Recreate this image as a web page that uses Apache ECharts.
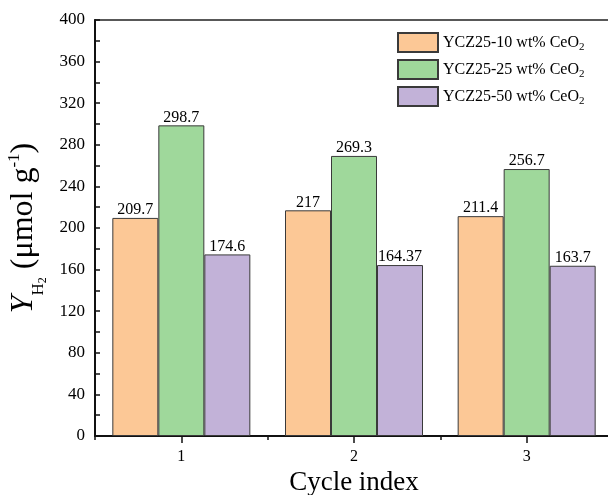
<!DOCTYPE html>
<html>
<head>
<meta charset="utf-8">
<script src="https://cdn.jsdelivr.net/npm/echarts@6/dist/echarts.min.js"></script>
<style>
  html, body { margin: 0; padding: 0; background: #fff; }
  #chart { width: 608px; height: 495px; }
</style>
</head>
<body>
<div id="chart"></div>
<script>
// Hydrogen yield per cycle for three CeO2 loadings
const cycles = ['1', '2', '3'];
const seriesNames = ['YCZ25-10 wt% CeO2', 'YCZ25-25 wt% CeO2', 'YCZ25-50 wt% CeO2'];
const yield10 = [209.7, 217, 211.4];
const yield25 = [298.7, 269.3, 256.7];
const yield50 = [174.6, 164.37, 163.7];
const barColors = ['#FCC896', '#9FD89B', '#C2B2D8'];

const FONT = 'Liberation Serif, Times New Roman, serif';

function makeSeries(name, values, color) {
  return {
    name: name,
    type: 'bar',
    xAxisIndex: 0,
    yAxisIndex: 0,
    data: values,
    barWidth: 46,
    barGap: '0%',
    itemStyle: { color: color, borderColor: '#3a3a3a', borderWidth: 1 },
    label: {
      show: true,
      position: 'top',
      distance: 0,
      color: '#000',
      fontFamily: FONT,
      fontSize: 16,
      formatter: (p) => String(p.value)
    }
  };
}

const chart = echarts.init(document.getElementById('chart'), null, { renderer: 'canvas' });

chart.setOption({
  animation: false,
  backgroundColor: '#fff',
  grid: {
    left: 95, right: -5, top: 20, bottom: 59,
    containLabel: false,
    outerBoundsMode: 'none',
    show: true, borderColor: '#222', borderWidth: 1.5, backgroundColor: 'transparent'
  },
  legend: {
    orient: 'vertical',
    left: 392,
    top: 27,
    itemWidth: 40,
    itemHeight: 19,
    itemGap: 6,
    itemTextGap: 5,
    icon: 'rect',
    data: seriesNames,
    formatter: (name) => '{a|' + name.slice(0, -1) + '}{s|' + name.slice(-1) + '}',
    textStyle: {
      fontFamily: FONT,
      color: '#000',
      rich: {
        a: { fontFamily: FONT, fontSize: 16, color: '#000', lineHeight: 20 },
        s: { fontFamily: FONT, fontSize: 11, color: '#000', lineHeight: 11, verticalAlign: 'bottom' }
      }
    }
  },
  xAxis: [
    {
      type: 'category',
      data: cycles,
      boundaryGap: true,
      name: 'Cycle index',
      nameLocation: 'middle',
      nameGap: 30,
      nameTextStyle: { fontFamily: FONT, fontSize: 27, color: '#000' },
      axisLine: { show: true, lineStyle: { color: '#111', width: 2 } },
      axisTick: { show: true, alignWithLabel: true, inside: false, length: 7, lineStyle: { color: '#111', width: 1.5 } },
      axisLabel: { fontFamily: FONT, fontSize: 16, color: '#000', margin: 13 },
      splitLine: { show: false }
    },
    {
      type: 'category',
      data: cycles,
      boundaryGap: true,
      position: 'bottom',
      axisLine: { show: false },
      axisTick: { show: true, alignWithLabel: false, inside: false, length: 4, lineStyle: { color: '#111', width: 1.5 } },
      axisLabel: { show: false },
      splitLine: { show: false }
    }
  ],
  yAxis: {
    type: 'value',
    min: 0,
    max: 400,
    interval: 40,
    name: '{i|Y}{h|H}{n|2}{t| (μmol g}{p|-1}{t|)}',
    nameLocation: 'middle',
    nameRotate: 90,
    nameGap: 41,
    nameTextStyle: {
      fontFamily: FONT,
      color: '#000',
      rich: {
        i: { fontFamily: FONT, fontSize: 32, fontStyle: 'italic', color: '#000', lineHeight: 50 },
        t: { fontFamily: FONT, fontSize: 32, color: '#000', lineHeight: 50 },
        h: { fontFamily: FONT, fontSize: 17, color: '#000', lineHeight: 17, verticalAlign: 'bottom', padding: [0, 0, 2, 0] },
        n: { fontFamily: FONT, fontSize: 12, color: '#000', lineHeight: 12, verticalAlign: 'bottom' },
        p: { fontFamily: FONT, fontSize: 17, color: '#000', lineHeight: 17, verticalAlign: 'top', padding: [7, 0, 0, 0] }
      }
    },
    axisLine: { show: true, lineStyle: { color: '#111', width: 2 } },
    axisTick: { show: true, inside: true, length: 5, lineStyle: { color: '#111', width: 1.5 } },
    minorTick: { show: true, splitNumber: 2, length: 5, lineStyle: { color: '#111', width: 1.5 } },
    axisLabel: { fontFamily: FONT, fontSize: 17, color: '#000', margin: 10 },
    splitLine: { show: false },
    minorSplitLine: { show: false }
  },
  series: [
    makeSeries(seriesNames[0], yield10, barColors[0]),
    makeSeries(seriesNames[1], yield25, barColors[1]),
    makeSeries(seriesNames[2], yield50, barColors[2])
  ]
});
</script>
</body>
</html>
